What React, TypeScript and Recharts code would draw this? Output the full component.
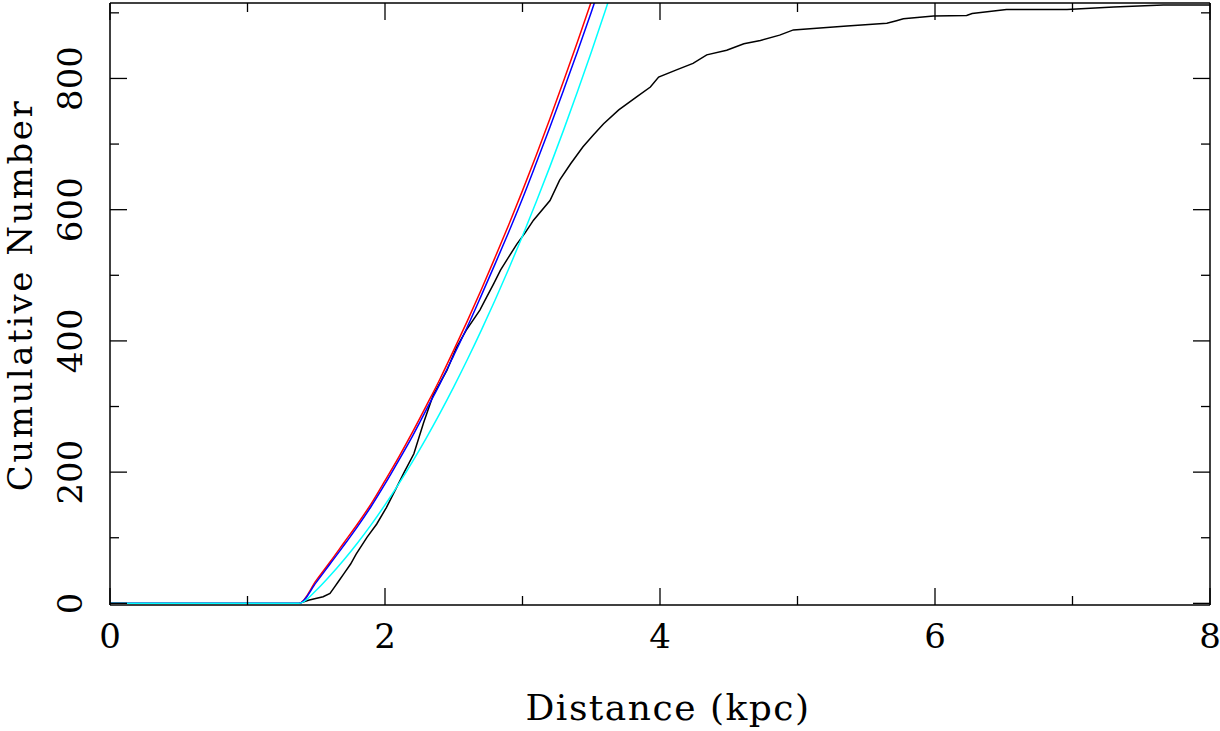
import React from "react";
import { LineChart, Line, XAxis, YAxis } from "recharts";

// observed cumulative counts (step curve)
const distKpc = [
  1.375, 1.45, 1.55, 1.6, 1.63, 1.66, 1.7, 1.75, 1.79, 1.87, 1.94, 2.01, 2.08, 2.14,
  2.21, 2.28, 2.35, 2.45, 2.52, 2.59, 2.69, 2.74, 2.79, 2.84, 2.96, 3.02, 3.08, 3.2,
  3.27, 3.35, 3.44, 3.515, 3.59, 3.7, 3.83, 3.93, 3.99, 4.12, 4.24, 4.34, 4.485, 4.61,
  4.73, 4.87, 4.97, 5.115, 5.36, 5.65, 5.72, 5.77, 5.99, 6.23, 6.27, 6.52, 6.96, 7.3,
  7.66, 8.0,
];
const cumNumber = [
  0, 5, 10, 15, 24, 33, 45, 60, 75, 101, 121, 146, 175, 200,
  228, 275, 317, 355, 390, 416, 447, 467, 487, 508, 548, 565, 584, 614,
  645, 670, 696, 714, 731, 752, 772, 787, 802, 813, 823, 836, 843, 853,
  858, 866, 874, 876, 880, 884, 888, 891, 895, 896, 899, 905, 905, 909,
  912, 912,
];

// model curves
const modelKpc = [
  0, 1.375, 1.5, 1.6, 1.7, 1.8, 1.9, 2.0, 2.1, 2.2, 2.3, 2.4, 2.5, 2.6, 2.7, 2.8,
  2.9, 3.0, 3.1, 3.2, 3.3, 3.4, 3.5, 3.6, 3.7,
];
const redModel = [
  0, 0, 35, 63, 92, 121, 152, 187, 223, 261, 301, 342, 386, 431, 478, 527,
  577, 629, 683, 739, 797, 856, 917, 980, 1044,
];
const blueModel = [
  0, 0, 32, 60, 88, 117, 148, 182, 218, 255, 295, 335, 378, 422, 469, 517,
  566, 617, 671, 726, 783, 841, 901, 963, 1026,
];
const cyanModel = [
  0, 0, 20, 42, 66, 92, 120, 150, 182, 216, 252, 290, 330, 372, 416, 462,
  510, 560, 612, 666, 722, 780, 840, 902, 966,
];

const xTicks = [0, 1, 2, 3, 4, 5, 6, 7, 8];
const yTicks = [0, 100, 200, 300, 400, 500, 600, 700, 800, 900];

const observed = distKpc.map((d, i) => ({ d, n: cumNumber[i] }));
const toModel = (vals: number[]) => modelKpc.map((d, i) => ({ d, n: vals[i] }));

const FONT = "'DejaVu Serif', serif";
const TICK_MAJOR = 17;
const TICK_MINOR = 9;
// y=0 sits just above the frame so the zero-level model line stays visible
const Y_DOMAIN = [-2.5, 915];

function XTick(props: any) {
  const { x, y, payload, side } = props;
  const v = payload.value;
  const major = v % 2 === 0;
  const len = major ? TICK_MAJOR : TICK_MINOR;
  const dir = side === "bottom" ? -1 : 1;
  return (
    <g>
      <line x1={x} x2={x} y1={y} y2={y + dir * len} stroke="#000" strokeWidth={1.3} />
      {side === "bottom" && major && (
        <text x={x} y={y + 43} textAnchor="middle" fontFamily={FONT} fontSize={34} fill="#000">
          {v}
        </text>
      )}
    </g>
  );
}

function YTick(props: any) {
  const { x, y, payload, side } = props;
  const v = payload.value;
  const major = v % 200 === 0;
  const len = major ? TICK_MAJOR : TICK_MINOR;
  const dir = side === "left" ? 1 : -1;
  const tx = x - 28;
  return (
    <g>
      <line x1={x} x2={x + dir * len} y1={y} y2={y} stroke="#000" strokeWidth={1.3} />
      {side === "left" && major && (
        <text
          x={tx}
          y={y}
          transform={`rotate(-90, ${tx}, ${y})`}
          textAnchor="middle"
          fontFamily={FONT}
          fontSize={34}
          fill="#000"
        >
          {v}
        </text>
      )}
    </g>
  );
}

export default function App() {
  return (
    <div style={{ position: "absolute", left: 0, top: 0, background: "#fff" }}>
      <LineChart width={1220} height={731} margin={{ top: 2, right: 9, bottom: 125, left: 109 }}>
        <XAxis
          xAxisId="b"
          type="number"
          dataKey="d"
          domain={[0, 8]}
          ticks={xTicks}
          allowDataOverflow
          height={1}
          tickSize={0}
          tickMargin={0}
          tickLine={false}
          axisLine={{ stroke: "#000", strokeWidth: 1.5 }}
          tick={<XTick side="bottom" />}
          interval={0}
          label={(p: any) => {
            const vb = p.viewBox || { x: 110, y: 605, width: 1100 };
            const cx = vb.x + vb.width / 2 + 8;
            return (
              <text
                x={cx}
                y={720}
                textAnchor="middle"
                fontFamily={FONT}
                fontSize={36}
                letterSpacing={1.5}
                fill="#000"
              >
                Distance (kpc)
              </text>
            );
          }}
        />
        <XAxis
          xAxisId="t"
          orientation="top"
          type="number"
          dataKey="d"
          domain={[0, 8]}
          ticks={xTicks}
          allowDataOverflow
          height={1}
          tickSize={0}
          tickMargin={0}
          tickLine={false}
          axisLine={{ stroke: "#000", strokeWidth: 1.5 }}
          tick={<XTick side="top" />}
          interval={0}
        />
        <YAxis
          yAxisId="l"
          type="number"
          domain={Y_DOMAIN}
          ticks={yTicks}
          allowDataOverflow
          width={1}
          tickSize={0}
          tickMargin={0}
          tickLine={false}
          axisLine={{ stroke: "#000", strokeWidth: 1.5 }}
          tick={<YTick side="left" />}
          interval={0}
          label={(p: any) => {
            const vb = p.viewBox || { x: 110, y: 3, height: 600 };
            const cx = 32;
            const cy = vb.y + vb.height / 2 - 9;
            return (
              <text
                x={cx}
                y={cy}
                transform={`rotate(-90, ${cx}, ${cy})`}
                textAnchor="middle"
                fontFamily={FONT}
                fontSize={34}
                letterSpacing={2.5}
                fill="#000"
              >
                Cumulative Number
              </text>
            );
          }}
        />
        <YAxis
          yAxisId="r"
          orientation="right"
          type="number"
          domain={Y_DOMAIN}
          ticks={yTicks}
          allowDataOverflow
          width={1}
          tickSize={0}
          tickMargin={0}
          tickLine={false}
          axisLine={{ stroke: "#000", strokeWidth: 1.5 }}
          tick={<YTick side="right" />}
          interval={0}
        />
        <Line
          xAxisId="b"
          yAxisId="l"
          data={observed}
          dataKey="n"
          type="linear"
          stroke="#000"
          strokeWidth={1.5}
          dot={false}
          isAnimationActive={false}
        />
        <Line
          xAxisId="b"
          yAxisId="l"
          data={toModel(redModel)}
          dataKey="n"
          type="monotone"
          stroke="#ff0000"
          strokeWidth={1.5}
          dot={false}
          isAnimationActive={false}
        />
        <Line
          xAxisId="b"
          yAxisId="l"
          data={toModel(blueModel)}
          dataKey="n"
          type="monotone"
          stroke="#0000ff"
          strokeWidth={1.5}
          dot={false}
          isAnimationActive={false}
        />
        <Line
          xAxisId="b"
          yAxisId="l"
          data={toModel(cyanModel)}
          dataKey="n"
          type="monotone"
          stroke="#00ffff"
          strokeWidth={1.5}
          dot={false}
          isAnimationActive={false}
        />
      </LineChart>
    </div>
  );
}
